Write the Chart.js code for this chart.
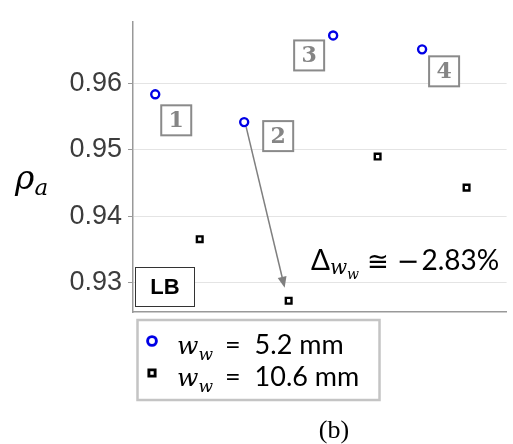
<!DOCTYPE html>
<html lang="en">
<head>
<meta charset="UTF-8">
<title>rho_a</title>
<script src="https://cdn.jsdelivr.net/npm/chart.js"></script>
<style>
  body { margin: 0; background: #fff; }
</style>
</head>
<body>
<canvas id="rhoChart" width="513" height="444"></canvas>
<script>
const cases = ['1', '2', '3', '4'];
const rhoNarrow = [0.9584, 0.9542, 0.9673, 0.9652];   // w_w = 5.2 mm
const rhoWide = [0.9365, 0.9272, 0.9490, 0.9443];     // w_w = 10.6 mm
const yTicks = [0.93, 0.94, 0.95, 0.96];
const seriesWidths = ['5.2 mm', '10.6 mm'];
const deltaValue = '2.83%';

// where the numbered boxes sit relative to each blue point, in px
const boxOffsets = [[21, 26], [34, 14], [-24, 20], [22, 22]];

const SERIF = '"Liberation Serif", serif';
const MATH = '"DejaVu Serif", serif';
const SANS = 'Lato, "Liberation Sans", sans-serif';

function drawRuns(ctx, x, y, runs) {
  ctx.textAlign = 'left';
  ctx.textBaseline = 'alphabetic';
  runs.forEach(r => {
    x += r.before || 0;
    ctx.font = r.font;
    ctx.fillText(r.text, x, y + (r.dy || 0));
    x += ctx.measureText(r.text).width;
  });
  return x;
}

function wwRuns(rest) {
  return [
    { text: 'w', font: 'italic 25px ' + MATH },
    { text: 'w', font: 'italic 17px ' + MATH, dy: 6 },
    { text: '=', font: '27px ' + SANS, before: 12 },
    { text: rest, font: '27px ' + SANS, before: 14 }
  ];
}

const annotations = {
  id: 'annotations',
  afterDraw(chart) {
    const ctx = chart.ctx;
    const ys = chart.scales.y;
    ctx.save();

    // axis title rho_a
    ctx.fillStyle = '#000';
    drawRuns(ctx, 15, 189, [
      { text: '\u03C1', font: 'italic 33px ' + MATH },
      { text: 'a', font: 'italic 23px ' + MATH, dy: 6 }
    ]);

    // numbered case boxes
    const narrow = chart.getDatasetMeta(0).data;
    narrow.forEach((pt, i) => {
      const cx = pt.x + boxOffsets[i][0], cy = pt.y + boxOffsets[i][1];
      ctx.fillStyle = '#fff';
      ctx.fillRect(cx - 15, cy - 15, 30, 30);
      ctx.strokeStyle = '#8a8a8a';
      ctx.lineWidth = 2;
      ctx.strokeRect(cx - 15, cy - 15, 30, 30);
      ctx.fillStyle = '#858585';
      ctx.font = 'bold 22px "DejaVu Serif", serif';
      ctx.textAlign = 'center';
      ctx.textBaseline = 'middle';
      ctx.fillText(cases[i], cx, cy + 1);
    });

    // arrow from case 2 narrow to case 2 wide
    const wide = chart.getDatasetMeta(1).data;
    const x0 = narrow[1].x + 2, y0 = narrow[1].y + 5;
    const x1 = wide[1].x - 4, y1 = wide[1].y - 13;
    const ang = Math.atan2(y1 - y0, x1 - x0);
    ctx.strokeStyle = '#7f7f7f';
    ctx.fillStyle = '#7f7f7f';
    ctx.lineWidth = 1.5;
    ctx.beginPath();
    ctx.moveTo(x0, y0);
    ctx.lineTo(x1 - 8 * Math.cos(ang), y1 - 8 * Math.sin(ang));
    ctx.stroke();
    ctx.beginPath();
    ctx.moveTo(x1, y1);
    ctx.lineTo(x1 - 11 * Math.cos(ang) + 4.5 * Math.sin(ang), y1 - 11 * Math.sin(ang) - 4.5 * Math.cos(ang));
    ctx.lineTo(x1 - 11 * Math.cos(ang) - 4.5 * Math.sin(ang), y1 - 11 * Math.sin(ang) + 4.5 * Math.cos(ang));
    ctx.closePath();
    ctx.fill();

    // relative change label
    ctx.fillStyle = '#000';
    const yd = ys.getPixelForValue(0.93) - 12;
    drawRuns(ctx, 311, yd, [
      { text: '\u0394', font: '28px ' + SANS },
      { text: 'w', font: 'italic 20px ' + MATH, dy: 4 },
      { text: 'w', font: 'italic 14px ' + MATH, dy: 9 },
      { text: '\u2245', font: '26px "DejaVu Sans", sans-serif', before: 8 },
      { text: '\u2212', font: '27px "DejaVu Sans", sans-serif', before: 8 },
      { text: deltaValue, font: '28px ' + SANS, before: 2 }
    ]);

    // LB tag
    ctx.fillStyle = '#fff';
    ctx.fillRect(135.5, 267.5, 59, 39);
    ctx.strokeStyle = '#333';
    ctx.lineWidth = 1;
    ctx.strokeRect(135.5, 267.5, 59, 39);
    ctx.fillStyle = '#000';
    ctx.font = 'bold 22px "Liberation Sans", sans-serif';
    ctx.textAlign = 'center';
    ctx.textBaseline = 'middle';
    ctx.fillText('LB', 165, 288);

    // legend
    ctx.strokeStyle = '#c4c4c4';
    ctx.lineWidth = 2.5;
    ctx.strokeRect(137.5, 320, 242, 80);
    const rowY = [341, 373];
    chart.data.datasets.forEach((ds, i) => {
      ctx.strokeStyle = ds.borderColor;
      ctx.fillStyle = ds.backgroundColor;
      ctx.lineWidth = ds.borderWidth + 0.5;
      Chart.helpers.drawPoint(ctx, { pointStyle: ds.pointStyle, radius: ds.pointRadius + 0.4, borderWidth: ds.borderWidth }, 152, rowY[i]);
      ctx.fillStyle = '#000';
      drawRuns(ctx, 177, rowY[i] + 13, wwRuns(seriesWidths[i]));
    });

    // panel caption
    ctx.fillStyle = '#000';
    ctx.font = '26px ' + SERIF;
    ctx.textAlign = 'center';
    ctx.textBaseline = 'alphabetic';
    ctx.fillText('(b)', 334, 438);

    ctx.restore();
  }
};

const toPoints = (vals, shift) => vals.map((v, i) => ({ x: i + 1 + shift, y: v }));

new Chart(document.getElementById('rhoChart'), {
  type: 'scatter',
  data: {
    datasets: [{
      label: 'w_w = ' + seriesWidths[0],
      data: toPoints(rhoNarrow, -0.25),
      pointStyle: 'circle',
      pointRadius: 4,
      borderWidth: 2.4,
      borderColor: '#0000e6',
      backgroundColor: '#fff'
    }, {
      label: 'w_w = ' + seriesWidths[1],
      data: toPoints(rhoWide, 0.25),
      pointStyle: 'rect',
      pointRadius: 4,
      borderWidth: 2.4,
      borderColor: '#000',
      backgroundColor: '#fff'
    }]
  },
  options: {
    responsive: false,
    animation: false,
    layout: { padding: { top: 10, bottom: 132, left: 0, right: 0 } },
    plugins: { legend: { display: false }, tooltip: { enabled: false } },
    scales: {
      x: {
        type: 'linear',
        min: 0.5,
        max: 4.7,
        ticks: { display: false },
        grid: { color: 'rgba(0,0,0,0)', drawTicks: false },
        border: { color: '#999', width: 1.5 },
        afterFit: s => { s.height = 0; }
      },
      y: {
        min: 0.9255,
        max: 0.9693,
        afterBuildTicks: s => { s.ticks = yTicks.map(v => ({ value: v })); },
        ticks: {
          callback: v => v.toFixed(2),
          color: '#3c3c3c',
          padding: 6,
          font: { family: '"Liberation Sans", sans-serif', size: 27 }
        },
        grid: { color: '#e4e4e4', tickColor: '#999', tickLength: 5 },
        border: { color: '#999', width: 1.5 },
        afterFit: s => { s.width = 133; }
      }
    }
  },
  plugins: [annotations]
});
</script>
</body>
</html>
